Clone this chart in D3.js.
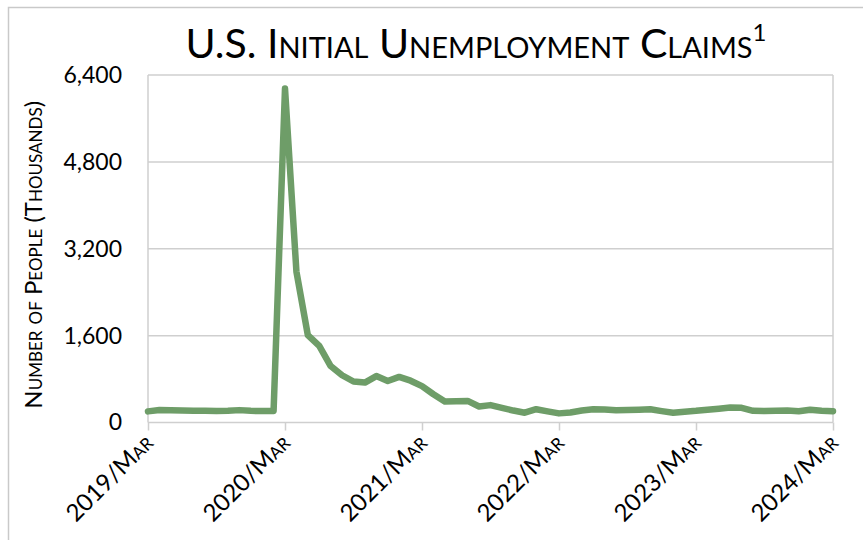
<!DOCTYPE html>
<html><head><meta charset="utf-8">
<script src="https://cdn.jsdelivr.net/npm/d3@7"></script>
<style>
html,body{margin:0;padding:0;background:#fff;}
svg text{font-family:Lato,"Open Sans",sans-serif;fill:#000;}
</style></head>
<body>
<svg id="chart" width="863" height="540"></svg>
<script>
const title = "U.S. Initial Unemployment Claims";
const titleNote = "1";
const yAxisTitle = "Number of People (Thousands)";
const yTicks = [0, 1600, 3200, 4800, 6400];
const xTickLabels = ["2019/Mar","2020/Mar","2021/Mar","2022/Mar","2023/Mar","2024/Mar"];
// monthly values, Mar 2019 .. Mar 2024 (thousands)
const claims = [
  205,230,225,222,218,215,213,215,228,215,210,212,
  6150,2780,1610,1410,1040,870,755,735,855,765,840,770,
  670,520,385,390,398,295,320,270,220,180,245,205,
  168,185,220,245,240,225,228,235,243,210,180,200,
  215,235,255,275,270,215,212,215,220,206,235,215,
  208
];

const svg = d3.select("#chart");
const L = 148, R = 833, T = 75, B = 422.5;
const x = d3.scaleLinear().domain([0, claims.length - 1]).range([L, R]);
const y = d3.scaleLinear().domain([0, 6400]).range([B, T]);
const grid = "#cfcfcf";

// outer chart border
svg.append("path").attr("d","M8.5,540 L8.5,7.5 L863,7.5")
  .attr("fill","none").attr("stroke","#c9c9c9").attr("stroke-width",1.5);

// horizontal gridlines
svg.append("g").selectAll("line").data(yTicks).join("line")
  .attr("x1", L).attr("x2", R).attr("y1", d => y(d)).attr("y2", d => y(d))
  .attr("stroke", grid).attr("stroke-width", 1.5);
// plot side lines
svg.append("g").selectAll("line").data([L, R]).join("line")
  .attr("x1", d => d).attr("x2", d => d).attr("y1", T).attr("y2", B)
  .attr("stroke", grid).attr("stroke-width", 1.5);

// y axis labels
const yAxis = d3.axisLeft(y).tickValues(yTicks).tickSize(0).tickPadding(26)
  .tickFormat(d3.format(","));
const gy = svg.append("g").attr("transform", `translate(${L},0)`).call(yAxis);
gy.select(".domain").remove();
gy.selectAll("text").attr("font-size", 23).attr("font-family","Lato,sans-serif").attr("fill","#000");

// x axis: ticks every 12 months
const xTickIdx = xTickLabels.map((d, i) => i * 12);
const xAxis = d3.axisBottom(x).tickValues(xTickIdx).tickSize(8)
  .tickFormat((d, i) => xTickLabels[i]);
const gx = svg.append("g").attr("transform", `translate(0,${B})`).call(xAxis);
gx.select(".domain").remove();
gx.selectAll(".tick line").attr("stroke", grid).attr("stroke-width", 1.5);
gx.selectAll("text")
  .attr("font-size", 24).attr("font-family","Lato,sans-serif").attr("fill","#000")
  .style("font-variant","small-caps")
  .attr("text-anchor","end").attr("dy", 0).attr("y", 0)
  .attr("transform","translate(6,22) rotate(-45)");

// line
const line = d3.line().x((d, i) => x(i)).y(d => y(d));
svg.append("path").datum(claims).attr("d", line)
  .attr("fill","none").attr("stroke","#6e9d68").attr("stroke-width",6.5)
  .attr("stroke-linejoin","round").attr("stroke-linecap","round");

// title
const t = svg.append("text").attr("x", 476).attr("y", 58).attr("text-anchor","middle")
  .attr("font-size", 41).style("font-variant","small-caps");
t.append("tspan").text(title);
t.append("tspan").attr("font-size", 24).attr("dy", -17).text(titleNote);

// y axis title
svg.append("text").attr("transform", `translate(42,${(T + B) / 2 + 6}) rotate(-90)`)
  .attr("text-anchor","middle").attr("font-size", 24)
  .style("font-variant","small-caps").text(yAxisTitle);
</script>
</body></html>
